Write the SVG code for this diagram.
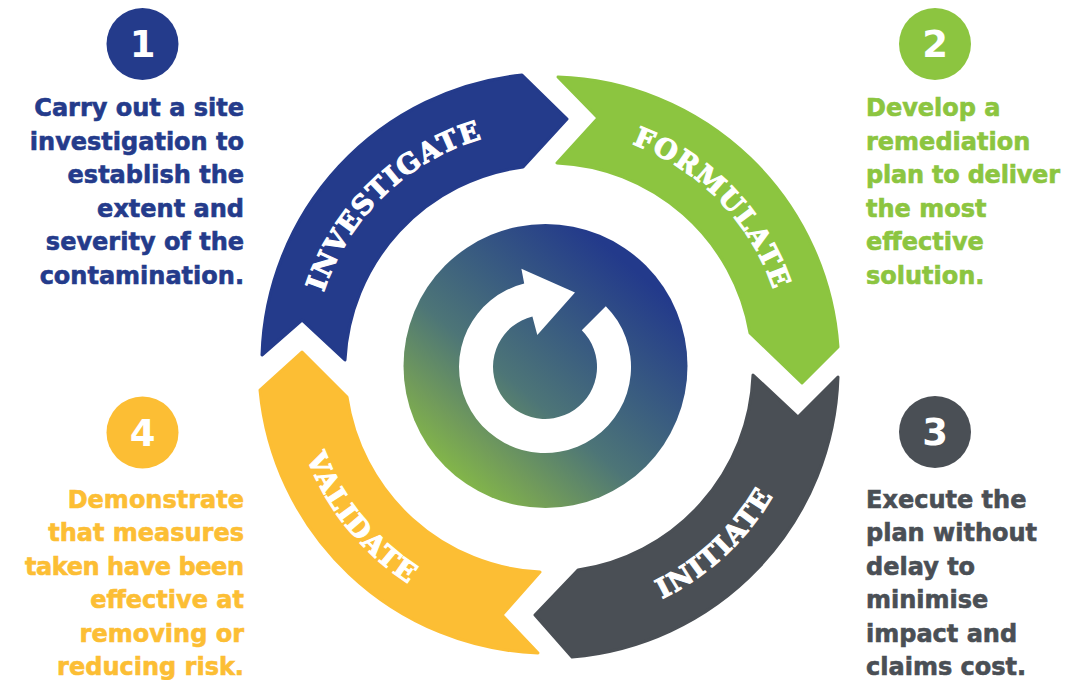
<svg xmlns="http://www.w3.org/2000/svg" width="1070" height="680" viewBox="0 0 1070 680">
  <style>
    .desc { font-family: "DejaVu Sans", "Liberation Sans", sans-serif; font-weight: bold; font-size: 24px; stroke-width: 0.6; }
    .num { font-family: "DejaVu Sans", "Liberation Sans", sans-serif; font-weight: bold; font-size: 37px; fill: #ffffff; text-anchor: middle; }
    .band-label { font-family: "DejaVu Serif", "Liberation Serif", serif; font-weight: bold; font-size: 27px; fill: #ffffff; stroke: #ffffff; stroke-width: 1.1; letter-spacing: 1.5px; }
    .blue { fill: #243b8b; stroke: #243b8b; }
    .green { fill: #8cc540; stroke: #8cc540; }
    .grey { fill: #4a4f55; stroke: #4a4f55; }
    .yellow { fill: #fcbe34; stroke: #fcbe34; }
    .dot { stroke: none; }
    .band { stroke-width: 3; stroke-linejoin: round; }
    .left { text-anchor: end; }
  </style>
  <defs>
    <linearGradient id="hub-grad" x1="0.12" y1="0.95" x2="0.8" y2="0.15">
      <stop offset="0" stop-color="#8dc63f"/>
      <stop offset="0.22" stop-color="#729c5a"/>
      <stop offset="0.45" stop-color="#4d7577"/>
      <stop offset="0.68" stop-color="#3a5d80"/>
      <stop offset="1" stop-color="#233a8b"/>
    </linearGradient>
    <path id="p-investigate" d="M319,423.3 A237,237 0 0 1 614.3,138.2"/>
    <path id="p-formulate" d="M491.7,136 A237,237 0 0 1 776.8,431.3"/>
    <path id="p-initiate" d="M473.6,612.7 A257,257 0 0 0 800.4,308"/>
    <path id="p-validate" d="M308.1,273.5 A257,257 0 0 0 589.4,620.8"/>
  </defs>

  <rect width="1070" height="680" fill="#ffffff"/>

  <!-- centre hub -->
  <g id="hub">
    <circle cx="545.5" cy="366" r="142" fill="url(#hub-grad)"/>
    <path d="M605.8,306.2 A86,86 0 1 1 524.2,283.6 L521.4,268.8 L575,292.5 L537.3,334.9 L532.4,316.5 A52,52 0 1 0 581.8,330.2 Z" fill="#ffffff"/>
  </g>

  <!-- cycle arrows -->
  <g id="connectors">
    <g id="band-investigate">
      <path class="band blue" d="M262,355 L302,320 L345,360 A205,205 0 0 1 523,167 L567,119 L522,75 A290,290 0 0 0 262,355 Z"/>
      <text class="band-label"><textPath href="#p-investigate" startOffset="50%" text-anchor="middle">INVESTIGATE</textPath></text>
    </g>
    <g id="band-formulate">
      <path class="band green" d="M558,77 L598,118 L557,163 A205,205 0 0 1 750,333 L802,383 L838,347 A290,290 0 0 0 558,77 Z"/>
      <text class="band-label"><textPath href="#p-formulate" startOffset="50%" text-anchor="middle">FORMULATE</textPath></text>
    </g>
    <g id="band-initiate">
      <path class="band grey" d="M838,377 L798,417 L753,375 A205,205 0 0 1 578,570 L535,615 L572,657 A290,290 0 0 0 838,377 Z"/>
      <text class="band-label"><textPath href="#p-initiate" startOffset="50%" text-anchor="middle">INITIATE</textPath></text>
    </g>
    <g id="band-validate">
      <path class="band yellow" d="M538,653 L502,615 L540,572 A205,205 0 0 1 347,397 L302,352 L260,390 A290,290 0 0 0 538,653 Z"/>
      <text class="band-label"><textPath href="#p-validate" startOffset="50%" text-anchor="middle">VALIDATE</textPath></text>
    </g>
  </g>

  <!-- step 1 -->
  <g id="step1">
    <circle class="blue dot" cx="142.5" cy="44" r="36"/>
    <text class="num" x="142.5" y="57">1</text>
    <g class="desc left blue">
      <text x="244" y="116">Carry out a site</text>
      <text x="244" y="149.6">investigation to</text>
      <text x="244" y="183.2">establish the</text>
      <text x="244" y="216.8">extent and</text>
      <text x="244" y="250.4">severity of the</text>
      <text x="244" y="284">contamination.</text>
    </g>
  </g>

  <!-- step 2 -->
  <g id="step2">
    <circle class="green dot" cx="935" cy="44" r="36"/>
    <text class="num" x="935" y="57">2</text>
    <g class="desc green">
      <text x="866" y="116">Develop a</text>
      <text x="866" y="149.6">remediation</text>
      <text x="866" y="183.2" textLength="194" lengthAdjust="spacing">plan to deliver</text>
      <text x="866" y="216.8">the most</text>
      <text x="866" y="250.4">effective</text>
      <text x="866" y="284">solution.</text>
    </g>
  </g>

  <!-- step 3 -->
  <g id="step3">
    <circle class="grey dot" cx="935" cy="432" r="36"/>
    <text class="num" x="935" y="445">3</text>
    <g class="desc grey">
      <text x="866" y="507.5">Execute the</text>
      <text x="866" y="541">plan without</text>
      <text x="866" y="574.5">delay to</text>
      <text x="866" y="608">minimise</text>
      <text x="866" y="641.5">impact and</text>
      <text x="866" y="675">claims cost.</text>
    </g>
  </g>

  <!-- step 4 -->
  <g id="step4">
    <circle class="yellow dot" cx="142.5" cy="432.5" r="36"/>
    <text class="num" x="142.5" y="445.5">4</text>
    <g class="desc left yellow">
      <text x="244" y="507.5">Demonstrate</text>
      <text x="244" y="541">that measures</text>
      <text x="244" y="574.5" textLength="219" lengthAdjust="spacing">taken have been</text>
      <text x="244" y="608">effective at</text>
      <text x="244" y="641.5">removing or</text>
      <text x="244" y="675">reducing risk.</text>
    </g>
  </g>
</svg>
